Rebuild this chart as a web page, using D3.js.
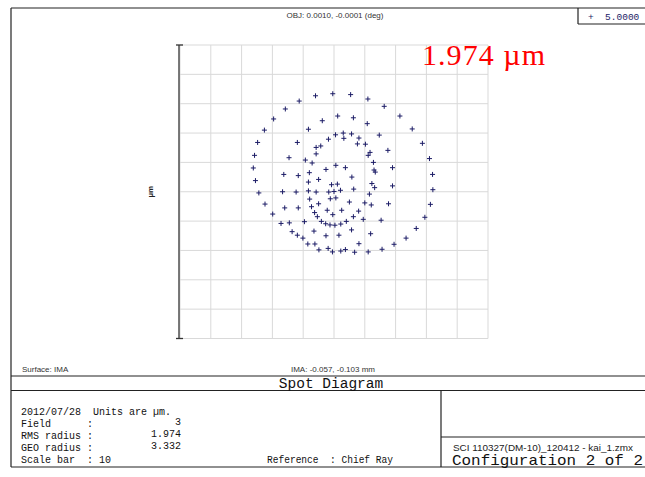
<!DOCTYPE html>
<html>
<head>
<meta charset="utf-8">
<script src="https://cdn.jsdelivr.net/npm/d3@7"></script>
<style>
  html, body { margin: 0; padding: 0; background: #fff; }
  svg { display: block; }
</style>
</head>
<body>
<div id="chart"></div>
<script>
// spot positions in µm, relative to chief ray
const spotX = [
  -0.60, -0.04, 0.54, 1.10, -1.13, 1.63, -1.58, -1.96, 2.14, -0.38,
  0.12, 0.63, 1.08, -0.83, 2.54, -2.26, -0.18, 0.05, 0.30, 0.57,
  0.81, 0.32, 1.47, -1.19, -2.48, 0.76, 1.02, 2.87, -0.58, -0.43,
  1.75, -0.58, 1.17, 1.11, -2.58, 3.10, -1.46, -0.93, -0.71, 1.28,
  -2.62, 0.06, 0.37, -0.26, 1.90, 1.30, 1.34, -0.80, -1.63, -1.16,
  0.58, 3.20, -2.55, -0.50, 1.23, 1.32, 1.90, -0.08, 0.11, -0.83,
  3.21, -2.44, -1.67, -1.23, -0.83, -0.58, -0.17, 0.00, 0.21, 0.64,
  1.15, -0.12, 0.06, -0.79, -0.50, 0.50, 1.00, 1.21, 1.77, 3.13,
  -2.24, -1.60, -1.16, -0.73, -0.63, -0.22, 0.25, 0.80, -0.04, 0.63,
  -1.99, -0.54, 2.95, -1.72, -1.45, -0.96, -0.41, -0.27, -0.13, 0.03,
  0.22, 0.40, 0.95, 1.53, 0.57, -0.65, -0.26, 0.16, 1.19, -1.36,
  -1.19, -1.01, 2.67, 2.34, -0.85, -0.62, 0.81, 1.95, -0.49, -0.19,
  -0.05, 0.22, 0.37, 0.67, 1.11, 1.56
];
const spotY = [
  3.27, 3.34, 3.31, 3.16, 3.09, 2.91, 2.82, 2.48, 2.58, 2.42,
  2.58, 2.52, 2.32, 2.13, 2.14, 2.10, 1.79, 1.94, 2.00, 1.97,
  1.83, 1.82, 1.93, 1.68, 1.68, 1.63, 1.62, 1.65, 1.51, 1.56,
  1.41, 1.29, 1.34, 1.24, 1.24, 1.13, 1.16, 1.08, 0.98, 1.00,
  0.81, 0.90, 0.82, 0.76, 0.82, 0.74, 0.67, 0.65, 0.59, 0.55,
  0.50, 0.59, 0.38, 0.42, 0.28, 0.14, 0.20, 0.24, 0.26, 0.33,
  0.07, -0.04, 0.00, -0.01, 0.03, -0.01, -0.01, 0.01, 0.05, 0.09,
  -0.08, -0.24, -0.21, -0.25, -0.41, -0.35, -0.38, -0.45, -0.41, -0.43,
  -0.42, -0.55, -0.55, -0.51, -0.71, -0.63, -0.63, -0.66, -0.78, -0.85,
  -0.76, -0.85, -0.87, -1.08, -1.06, -1.02, -1.01, -1.09, -1.13, -1.14,
  -1.10, -1.01, -0.94, -0.97, -1.30, -1.34, -1.50, -1.48, -1.43, -1.36,
  -1.48, -1.58, -1.25, -1.58, -1.78, -1.78, -1.77, -1.79, -1.98, -1.93,
  -2.05, -2.02, -1.97, -2.06, -2.05, -1.96
];

const gridTicks = [-5, -4, -3, -2, -1, 0, 1, 2, 3, 4, 5];
const wavelengths = ['5.0000'];
const rmsRadius = '1.974';
const geoRadius = '3.332';
const fieldNo = '3';
const scaleBar = '10';
const objLabel = 'OBJ: 0.0010, -0.0001 (deg)';
const imaLabel = 'IMA: -0.057, -0.103 mm';
const surfaceLabel = 'Surface: IMA';
const dateLabel = '2012/07/28';
const fileLabel = 'SCI 110327(DM-10)_120412 - kai_1.zmx';
const configLabel = 'Configuration 2 of 2';

const W = 645, H = 477;
const mono = "'Liberation Mono', 'DejaVu Sans Mono', monospace";
const small = "'Liberation Sans', Arial, sans-serif";
const ink = '#1c1c66';

const svg = d3.select('#chart').append('svg')
  .attr('width', W).attr('height', H)
  .attr('viewBox', `0 0 ${W} ${H}`);

const x = d3.scaleLinear().domain([-5, 5]).range([180, 488]);
const y = d3.scaleLinear().domain([-5, 5]).range([338.5, 45]);

// outer frame
const frame = svg.append('g').attr('stroke', '#222').attr('stroke-width', 1.2).attr('fill', 'none');
frame.append('line').attr('x1', 11).attr('y1', 8).attr('x2', W).attr('y2', 8);
frame.append('line').attr('x1', 11).attr('y1', 8).attr('x2', 11).attr('y2', 467);
frame.append('line').attr('x1', 11).attr('y1', 376).attr('x2', W).attr('y2', 376);
frame.append('line').attr('x1', 11).attr('y1', 390.5).attr('x2', W).attr('y2', 390.5);
frame.append('line').attr('x1', 11).attr('y1', 467).attr('x2', W).attr('y2', 467);
frame.append('line').attr('x1', 441).attr('y1', 390.5).attr('x2', 441).attr('y2', 467);
frame.append('line').attr('x1', 441).attr('y1', 437).attr('x2', W).attr('y2', 437);
// wavelength box
frame.append('line').attr('x1', 578).attr('y1', 8).attr('x2', 578).attr('y2', 24);
frame.append('line').attr('x1', 578).attr('y1', 24).attr('x2', W).attr('y2', 24);

// grid
const grid = svg.append('g').attr('stroke', '#d9d9d9').attr('stroke-width', 1);
grid.selectAll('.vx').data(gridTicks).enter().append('line')
  .attr('x1', d => x(d)).attr('x2', d => x(d))
  .attr('y1', y(5)).attr('y2', y(-5));
grid.selectAll('.hy').data(gridTicks).enter().append('line')
  .attr('x1', x(-5)).attr('x2', x(5))
  .attr('y1', d => y(d)).attr('y2', d => y(d));

// scale bar
const bar = svg.append('g').attr('stroke', '#333').attr('stroke-width', 1.3);
bar.append('line').attr('x1', x(-5) - 1).attr('x2', x(-5) - 1).attr('y1', y(5)).attr('y2', y(-5));
bar.append('line').attr('x1', x(-5) - 4).attr('x2', x(-5) + 3).attr('y1', y(5)).attr('y2', y(5));
bar.append('line').attr('x1', x(-5) - 4).attr('x2', x(-5) + 3).attr('y1', y(-5)).attr('y2', y(-5));

svg.append('text')
  .attr('transform', `translate(153,${y(0)}) rotate(-90)`)
  .attr('text-anchor', 'middle')
  .attr('font-family', small).attr('font-size', 8).attr('font-weight', 'bold').attr('fill', '#222')
  .text('µm');

// spots
const pts = spotX.map((v, i) => ({ x: v, y: spotY[i] }));
svg.append('g').selectAll('path').data(pts).enter().append('path')
  .attr('d', d => `M${x(d.x) - 2.5},${y(d.y)}h5M${x(d.x)},${y(d.y) - 2.5}v5`)
  .attr('stroke', ink).attr('stroke-width', 1).attr('fill', 'none');

// rms annotation
svg.append('text')
  .attr('x', 422).attr('y', 65)
  .attr('font-family', "'Liberation Serif', 'DejaVu Serif', serif")
  .attr('font-size', 30).attr('fill', '#ff0000')
  .attr('textLength', 123).attr('lengthAdjust', 'spacing')
  .text(`${rmsRadius} µm`);

// top / bottom small labels
svg.append('text').attr('x', 335).attr('y', 18).attr('text-anchor', 'middle')
  .attr('font-family', small).attr('font-size', 8).attr('fill', '#333').text(objLabel);
svg.append('text').attr('x', 333).attr('y', 372).attr('text-anchor', 'middle')
  .attr('font-family', small).attr('font-size', 8).attr('fill', '#333').text(imaLabel);
svg.append('text').attr('x', 22).attr('y', 372)
  .attr('font-family', small).attr('font-size', 8).attr('fill', '#333').text(surfaceLabel);

// wavelength legend
svg.selectAll('.wl').data(wavelengths).enter().append('text')
  .attr('x', 588).attr('y', 20)
  .attr('font-family', mono).attr('font-size', 9.5).attr('fill', ink)
  .attr('xml:space', 'preserve')
  .text(d => `+  ${d}`);

svg.append('text').attr('x', 331).attr('y', 387.5).attr('text-anchor', 'middle')
  .attr('font-family', mono).attr('font-size', 14.5).attr('fill', '#111').text('Spot Diagram');

// info block
const info = [
  [`${dateLabel}  Units are µm.`, null],
  ['Field      :', fieldNo],
  ['RMS radius :', rmsRadius],
  ['GEO radius :', geoRadius],
  [`Scale bar  : ${scaleBar}`, null]
];
const infoG = svg.append('g').attr('font-family', mono).attr('font-size', 10).attr('fill', '#111');
info.forEach((row, i) => {
  const yy = 414.5 + i * 12.2;
  infoG.append('text').attr('x', 21).attr('y', yy).attr('xml:space', 'preserve').text(row[0]);
  if (row[1]) infoG.append('text').attr('x', 181).attr('y', yy - 2).attr('text-anchor', 'end').text(row[1]);
});
infoG.append('text').attr('x', 267).attr('y', 463).attr('xml:space', 'preserve')
  .attr('textLength', 126).attr('lengthAdjust', 'spacingAndGlyphs')
  .text('Reference  : Chief Ray');

svg.append('text').attr('x', 453).attr('y', 451)
  .attr('font-family', small).attr('font-size', 9).attr('fill', '#222')
  .attr('textLength', 180).attr('lengthAdjust', 'spacingAndGlyphs')
  .text(fileLabel);
svg.append('text').attr('x', 452).attr('y', 464.5)
  .attr('font-family', mono).attr('font-size', 15).attr('fill', '#111')
  .attr('textLength', 191).attr('lengthAdjust', 'spacingAndGlyphs')
  .text(configLabel);
</script>
</body>
</html>
